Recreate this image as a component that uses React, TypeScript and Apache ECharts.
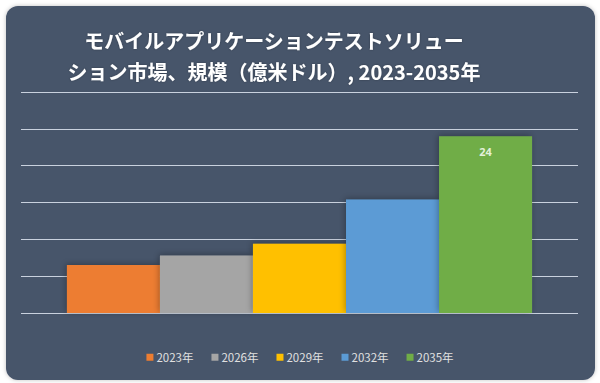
import React, { useEffect, useRef } from "react";
import * as echarts from "echarts";

const seriesNames = ["2023年", "2026年", "2029年", "2032年", "2035年"];
const seriesValues = [6.5, 7.8, 9.4, 15.4, 24];
const seriesColors = ["#ed7d31", "#a5a5a5", "#ffc000", "#5b9bd5", "#70ad47"];
const labelShown = [false, false, false, false, true];
const categories = ["市場規模"];
const titleText = "モバイルアプリケーションテストソリュー\nション市場、規模（億米ドル）, 2023-2035年";

export default function App() {
  const ref = useRef<HTMLDivElement>(null);
  useEffect(() => {
    const chart = echarts.init(ref.current!, null, { renderer: "svg" });
    chart.setOption({
      animation: false,
      backgroundColor: "#ffffff",
      graphic: [
        {
          type: "rect",
          z: -10,
          shape: { x: 6, y: 6, width: 589, height: 374, r: 12 },
          style: {
            fill: "#46546b",
            shadowBlur: 4,
            shadowColor: "rgba(0,0,0,0.25)",
          },
          silent: true,
        },
      ],
      title: {
        text: titleText,
        left: 269,
        textAlign: "center",
        top: 20,
        textStyle: {
          color: "#ffffff",
          fontSize: 20,
          fontWeight: "bold",
          fontFamily: "Noto Sans CJK JP",
          lineHeight: 31,
          textShadowBlur: 2,
          textShadowColor: "rgba(0,0,0,0.3)",
        },
      },
      legend: {
        bottom: 15,
        left: "center",
        itemWidth: 7,
        itemHeight: 7,
        itemGap: 18,
        icon: "rect",
        textStyle: { color: "#e0e0e0", fontSize: 11.5, fontFamily: "Noto Sans CJK JP", padding: [0, 0, 0, -2] },
        data: seriesNames,
      },
      grid: { left: 21, right: 22, top: 92, bottom: 70 },
      xAxis: {
        type: "category",
        data: categories,
        axisLine: { show: false },
        axisTick: { show: false },
        axisLabel: { show: false },
      },
      yAxis: {
        type: "value",
        min: 0,
        max: 30,
        interval: 5,
        axisLabel: { show: false },
        axisLine: { show: false },
        axisTick: { show: false },
        splitLine: { lineStyle: { color: "#c9d1de", width: 1.2 } },
      },
      series: seriesNames.map((name, i) => ({
        name,
        type: "bar",
        data: [seriesValues[i]],
        barGap: "0%",
        barCategoryGap: "16.5%",
        itemStyle: {
          color: seriesColors[i],
          shadowBlur: 6,
          shadowColor: "rgba(0,0,0,0.3)",
          shadowOffsetX: -1,
          shadowOffsetY: -1,
        },
        label: {
          show: labelShown[i],
          position: "insideTop",
          distance: 10,
          color: "#e2f0d9",
          fontSize: 11,
          fontWeight: "bold",
          fontFamily: "Noto Sans",
        },
      })),
    });
    return () => chart.dispose();
  }, []);
  return (
    <div style={{ position: "fixed", left: 0, top: 0, width: 600, height: 383, background: "#fff" }}>
      <div ref={ref} style={{ width: 600, height: 383 }} />
    </div>
  );
}
